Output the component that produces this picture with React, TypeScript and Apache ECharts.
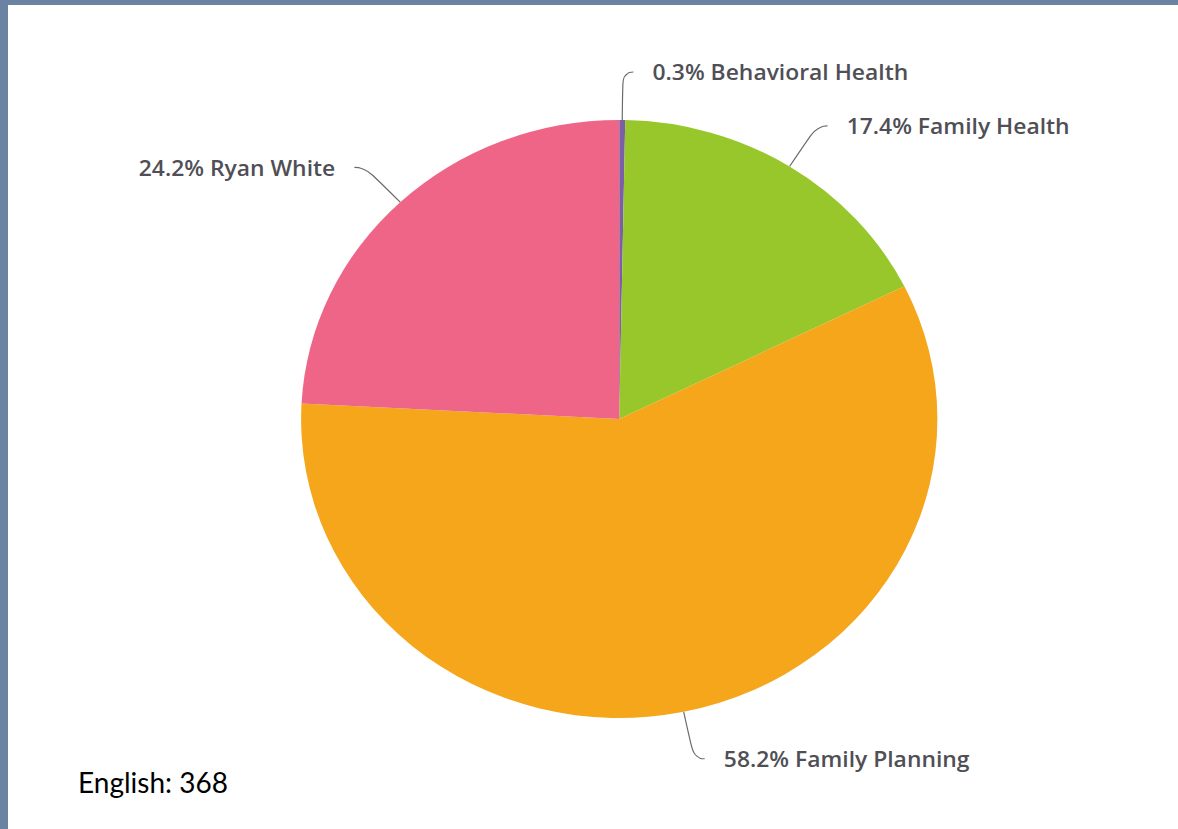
import React, { useEffect, useRef } from "react";
import * as echarts from "echarts";

const categories = ["Behavioral Health", "Family Health", "Family Planning", "Ryan White"];
const percentages = [0.3, 17.4, 58.2, 24.2];
const colors = ["#7a5fa6", "#97c72a", "#f5a61b", "#ef6587"];
const footnote = "English: 368";

const STRETCH = 1.064;

export default function App() {
  const ref = useRef<HTMLDivElement>(null);
  useEffect(() => {
    if (!ref.current) return;
    const chart = echarts.init(ref.current, undefined, { renderer: "svg" });
    chart.setOption({
      animation: false,
      series: [
        {
          type: "pie",
          center: [582, 419],
          radius: 299,
          startAngle: 90,
          clockwise: true,
          avoidLabelOverlap: false,
          data: categories.map((name, i) => ({
            name,
            value: percentages[i],
            itemStyle: { color: colors[i] },
          })),
          itemStyle: { borderColor: "#ffffff", borderWidth: 0 },
          label: {
            show: true,
            position: "outside",
            formatter: (p: any) => `${p.value}% ${p.name}`,
            color: "#4f4f55",
            fontFamily: "Open Sans",
            fontWeight: 600,
            fontSize: 21.5,
            distanceToLabelLine: 18,
            padding: [8, 0, 0, 0],
          },
          labelLine: {
            show: true,
            length: 48,
            length2: 10,
            smooth: 0.6,
            lineStyle: { color: "#6a6a6a", width: 1.1 },
          },
          emphasis: { disabled: true },
        },
      ],
    });
    return () => chart.dispose();
  }, []);

  return (
    <div style={{ position: "fixed", left: 0, top: 0, width: 1178, height: 829, background: "#ffffff", overflow: "hidden" }}>
      <div
        ref={ref}
        style={{
          position: "absolute",
          left: 0,
          top: 0,
          width: 1178 / STRETCH,
          height: 829,
          transform: `scaleX(${STRETCH})`,
          transformOrigin: "0 0",
        }}
      />
      <div style={{ position: "absolute", left: 0, top: 0, width: 1178, height: 5, background: "#6b83a2" }} />
      <div style={{ position: "absolute", left: 0, top: 0, width: 8, height: 829, background: "#6b83a2" }} />
      <div
        style={{
          position: "absolute",
          left: 78,
          top: 764,
          fontFamily: "Lato",
          fontSize: 28,
          color: "#000",
          lineHeight: "36px",
        }}
      >
        {footnote}
      </div>
    </div>
  );
}
